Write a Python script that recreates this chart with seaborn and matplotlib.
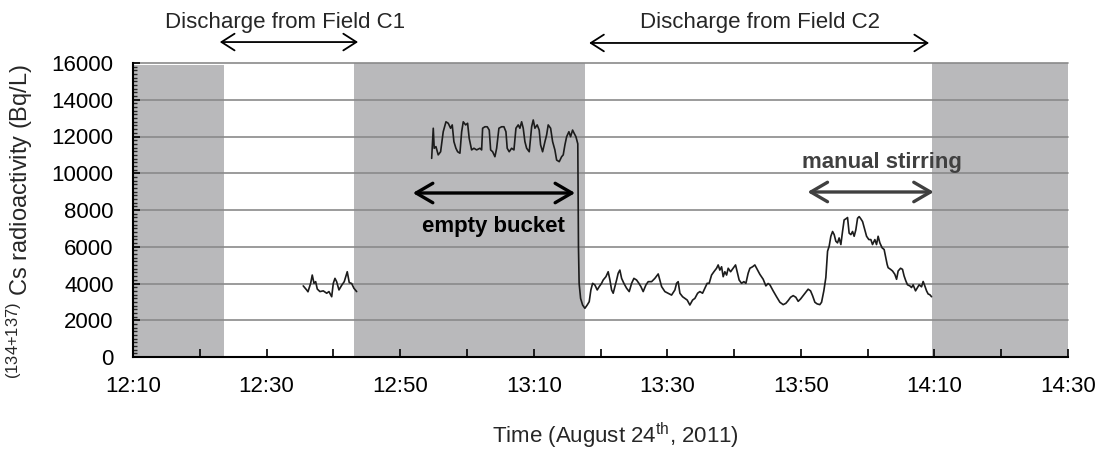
import numpy as np
import pandas as pd
import matplotlib
matplotlib.use("Agg")
import matplotlib.pyplot as plt
import seaborn as sns
from matplotlib.ticker import FixedLocator, MultipleLocator

# ---------------- data (time in minutes after 12:00) ----------------
c1_time = [35.49, 36.00, 36.20, 36.60, 36.84, 37.10, 37.35, 37.59, 37.99, 38.49,
           39.00, 39.34, 39.75, 39.99, 40.24, 40.49, 40.84, 41.24, 41.63, 42.08,
           42.38, 42.74, 43.08, 43.49]
c1_value = [3870, 3650, 3550, 4010, 4460, 4010, 4100, 3700, 3560, 3600,
            3470, 3560, 3280, 4010, 4280, 4100, 3650, 3900, 4100, 4640,
            4050, 4000, 3740, 3560]

bucket_time = [54.72, 54.96, 55.10, 55.36, 55.70, 56.06, 56.45, 56.86, 57.20, 57.56,
               57.80, 58.05, 58.35, 58.61, 58.95, 59.21, 59.45, 59.81, 60.10, 60.34,
               60.70, 61.05, 61.45, 61.95, 62.20, 62.35, 62.69, 63.04, 63.34, 63.55,
               63.85, 64.19, 64.45, 64.79, 65.19, 65.54, 65.84, 66.03, 66.33, 66.69,
               67.04, 67.34, 67.68, 67.93, 68.19, 68.43, 68.68, 68.94, 69.33, 69.69,
               69.93, 70.18, 70.52, 70.82, 71.03, 71.33, 71.68, 71.93, 72.17, 72.53,
               72.83, 73.17, 73.43, 73.82, 74.18, 74.42, 74.67, 74.93, 75.27, 75.52,
               75.82, 76.06, 76.32, 76.51]
bucket_value = [10810, 12450, 11360, 11450, 11000, 11170, 12260, 12800, 12720, 12450,
                12630, 11720, 11360, 11170, 11090, 12260, 12800, 12630, 12720, 11900,
                11270, 11360, 11270, 11360, 11270, 12450, 12530, 12530, 12350, 11270,
                11170, 10900, 11360, 12450, 12530, 12530, 12260, 11360, 11170, 11360,
                11270, 12450, 12630, 12450, 12800, 12450, 11720, 11360, 11170, 12530,
                12900, 12450, 12630, 12350, 11540, 11170, 11720, 12080, 12630, 12450,
                11720, 11270, 10720, 10630, 10900, 11000, 11540, 11990, 12260, 11990,
                12350, 12170, 11990, 11720]

c2_time = [76.60, 76.70, 76.80, 77.02, 77.32, 77.66, 78.01, 78.31, 78.56, 78.82,
           79.16, 79.51, 79.81, 80.16, 80.40, 80.81, 81.15, 81.41, 81.66, 81.90,
           82.16, 82.41, 82.65, 82.90, 83.16, 83.50, 83.91, 84.30, 84.66, 85.00,
           85.40, 85.75, 86.05, 86.39, 86.80, 87.14, 87.65, 88.14, 88.64, 88.89,
           89.15, 89.64, 90.13, 90.64, 91.14, 91.39, 91.63, 91.89, 92.29, 92.63,
           92.98, 93.38, 93.79, 94.13, 94.54, 94.88, 95.28, 95.63, 95.97, 96.27,
           96.63, 96.98, 97.38, 97.62, 97.87, 98.13, 98.37, 98.62, 98.88, 99.12,
           99.48, 99.87, 100.22, 100.46, 100.76, 101.12, 101.47, 101.77, 102.11, 102.37,
           102.77, 103.11, 103.37, 103.86, 104.36, 104.76, 105.10, 105.36, 105.85, 106.36,
           106.86, 107.35, 107.75, 108.10, 108.46, 108.85, 109.25, 109.60, 109.96, 110.34,
           110.70, 111.09, 111.45, 111.75, 112.10, 112.44, 112.84, 113.10, 113.44, 113.74,
           114.00, 114.24, 114.49, 114.75, 114.99, 115.24, 115.49, 115.73, 115.99, 116.24,
           116.48, 116.74, 116.99, 117.23, 117.49, 117.74, 117.98, 118.23, 118.49, 118.73,
           118.98, 119.24, 119.58, 119.84, 120.18, 120.48, 120.73, 121.08, 121.33, 121.57,
           121.83, 122.17, 122.47, 122.72, 122.92, 123.07, 123.43, 123.73, 124.07, 124.33,
           124.57, 124.93, 125.22, 125.46, 125.72, 125.97, 126.32, 126.57, 126.81, 127.17,
           127.47, 127.71, 128.07, 128.31, 128.56, 128.82, 129.06, 129.31, 129.57]
c2_value = [11600, 6000, 4000, 3190, 2830, 2650, 2830, 3010, 3650, 4010,
            3920, 3650, 3830, 4010, 4190, 4370, 4640, 4190, 3650, 3470,
            3830, 4190, 4560, 4730, 4280, 4010, 3740, 3560, 4010, 4280,
            4190, 4010, 3830, 3560, 3920, 4100, 4100, 4280, 4520, 4190,
            3830, 3560, 3470, 3370, 3650, 4010, 4100, 3470, 3280, 3190,
            3100, 2830, 3100, 3190, 3470, 3560, 3470, 3740, 4010, 4010,
            4460, 4640, 4830, 5010, 4730, 4910, 4370, 4640, 4460, 4830,
            4640, 4830, 5010, 4640, 4190, 4010, 4100, 4010, 4560, 4830,
            4910, 5010, 4830, 4500, 4230, 3870, 4000, 3930, 3600, 3280,
            2980, 2850, 2920, 3070, 3250, 3340, 3250, 3030, 3160, 3340,
            3520, 3690, 3600, 3340, 2980, 2890, 2850, 2980, 3600, 4320,
            5760, 6030, 6570, 6830, 6660, 6300, 6210, 6480, 6120, 6830,
            7460, 7520, 7590, 6740, 6660, 6830, 6570, 6920, 7550, 7640,
            7520, 7370, 6920, 6570, 6390, 6390, 6120, 6390, 6120, 6570,
            6210, 5940, 5850, 5400, 5040, 4860, 4770, 4680, 4500, 4230,
            4680, 4830, 4770, 4410, 4140, 3930, 3870, 3780, 3930, 3600,
            3780, 3930, 3820, 4110, 3870, 3600, 3430, 3390, 3280]

tick_minutes = [10, 30, 50, 70, 90, 110, 130, 150]
tick_labels = ["12:10", "12:30", "12:50", "13:10", "13:30", "13:50", "14:10", "14:30"]
minor_minutes = [20, 40, 60, 80, 100, 120, 140]

shade_start = [10, 43.1, 129.7]
shade_end = [23.6, 77.7, 150]
shade_top = [15870, 16000, 16000]

# ---------------- figure ----------------
sns.set_style("white")
plt.rcParams["font.family"] = ["Liberation Sans", "DejaVu Sans"]
plt.rcParams["mathtext.fontset"] = "custom"
plt.rcParams["mathtext.rm"] = "Liberation Sans"
plt.rcParams["mathtext.it"] = "Liberation Sans:italic"
plt.rcParams["mathtext.bf"] = "Liberation Sans:bold"

fig = plt.figure(figsize=(11.07, 4.53), dpi=100)
ax = fig.add_axes([133 / 1107, 1 - 357 / 453, (1068 - 133) / 1107, (357 - 63) / 453])

for s, e, t in zip(shade_start, shade_end, shade_top):
    ax.axvspan(s, e, ymin=0, ymax=t / 16000, color="#b9b9bb", lw=0, zorder=0.2)

df = pd.concat([
    pd.DataFrame({"time": c1_time, "value": c1_value, "seg": "C1"}),
    pd.DataFrame({"time": bucket_time + c2_time, "value": bucket_value + c2_value, "seg": "C2"}),
])
sns.lineplot(data=df, x="time", y="value", units="seg", estimator=None, sort=False,
             color="#1c1c1c", lw=1.2, ax=ax, zorder=3)

ax.set_xlim(10, 150)
ax.set_ylim(0, 16000)
ax.set_xticks(tick_minutes)
ax.set_xticklabels(tick_labels)
ax.xaxis.set_minor_locator(FixedLocator(minor_minutes))
ax.set_yticks(np.arange(0, 16001, 2000))
ax.yaxis.set_minor_locator(MultipleLocator(200))

ax.set_axisbelow(True)
ax.yaxis.grid(True, color="#8a8a8a", lw=1.2)
ax.xaxis.grid(False)
for gl in ax.get_ygridlines():
    gl.set_clip_on(False)

for side in ["top", "right"]:
    ax.spines[side].set_visible(False)
for side in ["left", "bottom"]:
    ax.spines[side].set_color("black")
    ax.spines[side].set_linewidth(1.5)
    ax.spines[side].set_zorder(4)

ax.tick_params(axis="x", which="both", direction="in", bottom=True, length=6, width=1.2,
               pad=14, labelsize=16, colors="black")
ax.tick_params(axis="y", which="major", direction="in", left=True, length=5, width=1.2,
               pad=14, labelsize=16, colors="black")
ax.tick_params(axis="y", which="minor", direction="in", left=True, length=3, width=1)

ax.set_xlabel(r"Time (August 24$\mathregular{^{th}}$, 2011)", fontsize=16)
ax.xaxis.set_label_coords(0.516, -0.218)
ax.set_ylabel(r"$\mathregular{^{(134{+}137)}}$ Cs radioactivity (Bq/L)", fontsize=17)
ax.yaxis.set_label_coords(-0.105, 0.46)

def arrow(x1, x2, y, lw, color, hl, hw):
    ax.annotate("", xy=(x2, y), xytext=(x1, y),
                arrowprops=dict(arrowstyle=f"<->,head_length={hl},head_width={hw}",
                                lw=lw, color=color, shrinkA=0, shrinkB=0, mutation_scale=20),
                annotation_clip=False, zorder=5)

ax.text(32.75, 18230, "Discharge from Field C1", ha="center", va="center", fontsize=16, clip_on=False)
arrow(23.0, 43.7, 17140, 1.3, "black", 0.47, 0.3)
ax.text(103.9, 18180, "Discharge from Field C2", ha="center", va="center", fontsize=16, clip_on=False)
arrow(78.3, 129.2, 17090, 1.3, "black", 0.47, 0.3)

arrow(51.9, 76.2, 8925, 2.4, "black", 0.6, 0.35)
ax.text(64.0, 7075, "empty bucket", ha="center", va="center", fontsize=16,
        fontweight="bold", color="black", zorder=5)
arrow(111.0, 129.9, 8980, 2.4, "#404040", 0.6, 0.35)
ax.text(122.1, 10610, "manual stirring", ha="center", va="center", fontsize=16,
        fontweight="bold", color="#404040", zorder=5)

fig.savefig("out.png", dpi=100)
